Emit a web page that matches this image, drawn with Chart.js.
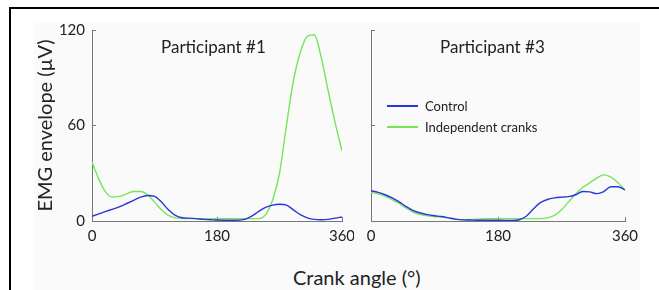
<!DOCTYPE html>
<html>
<head>
<meta charset="utf-8">
<script src="https://cdn.jsdelivr.net/npm/chart.js@4"></script>
<style>
  body { margin: 0; width: 659px; height: 290px; background: #fff; position: relative; overflow: hidden; font-family: "Lato", "DejaVu Sans", sans-serif; color: #222; }
  .frame { position: absolute; left: 9px; top: 7px; right: 0; bottom: -5px; border-top: 2px solid #000; border-left: 2px solid #000; }
  .bg { position: absolute; left: 34px; top: 23px; width: 606px; height: 267px; background: #fafafa; }
  canvas { position: absolute; }
  .ptitle { position: absolute; font-size: 17px; top: 36px; }
  .xlabel { position: absolute; left: 293px; top: 265px; font-size: 20px; }
  .legend { position: absolute; left: 387px; top: 95px; font-size: 13px; }
  .legend div { height: 21px; display: flex; align-items: center; }
  .legend span.sw { display: inline-block; width: 31px; height: 0; border-top: 2px solid; margin-right: 7px; }
</style>
</head>
<body>
<div class="frame"></div>
<div class="bg"></div>
<canvas id="c1" width="320" height="240" style="left:34px;top:23px;width:320px;height:240px"></canvas>
<canvas id="c2" width="287" height="240" style="left:352px;top:23px;width:287px;height:240px"></canvas>
<div class="ptitle" style="left:161px">Participant #1</div>
<div class="ptitle" style="left:440px">Participant #3</div>
<div class="legend" id="legend"></div>
<div class="xlabel">Crank angle (°)</div>
<script>
    // crank angle in degrees, one sample every 10 degrees
    var angles = [0, 10, 20, 30, 40, 50, 60, 70, 80, 90, 100, 110, 120, 130, 140, 150, 160, 170, 180,
                  190, 200, 210, 220, 230, 240, 250, 260, 270, 280, 290, 300, 310, 320, 330, 340, 350, 360];

    var seriesNames = ['Control', 'Independent cranks'];
    var colors = ['#2a36dc', '#74e65a'];

    // participant #1
    var p1Control = [3, 4.5, 6, 7.5, 9, 11, 13, 15, 16, 15.5, 12, 7, 3.5, 2, 1.8, 1.5, 1, 0.8, 0.6,
                     0.5, 0.5, 0.5, 1, 3, 6, 8.5, 10, 10.5, 10, 7, 4, 2, 1, 0.8, 1, 1.8, 2.5];
    var p1Independent = [37, 26, 18, 15, 15.5, 17, 18.5, 18.5, 16.5, 12, 7, 3.5, 2, 1.5, 1.5, 1.5, 1.5, 1.5, 1.5,
                         1.5, 1.5, 1.5, 1.5, 1.5, 1.5, 4, 13, 30, 60, 88, 106, 116, 117, 103, 82, 62, 44];

    // participant #3
    var p3Control = [19, 18, 16.5, 14.5, 12, 9, 6.5, 5, 4, 3.3, 2.8, 2, 1.2, 0.7, 0.6, 0.5, 0.5, 0.5, 0.5,
                     0.4, 0.4, 0.8, 3, 7.5, 11.5, 13.5, 14.5, 15, 15.3, 16.5, 18.5, 18.3, 17.2, 18.5, 21.5, 21.5, 19.5];
    var p3Independent = [18, 17, 15.5, 13.5, 11, 8, 5.5, 4, 3.3, 2.8, 2.5, 1.8, 1, 0.7, 0.9, 1.2, 1.4, 1.5, 1.5,
                         1.5, 1.5, 1.5, 1.5, 1.5, 1.5, 2, 3.5, 7, 12, 17, 21, 24, 27, 29, 27.5, 24, 19.5];

    var xTicks = [0, 180, 360];
    var yTicks = [0, 60, 120];

    Chart.defaults.font.family = 'Lato, "DejaVu Sans", sans-serif';
    Chart.defaults.color = '#222';

    function toPoints(values) {
        return values.map(function(v, i) { return {x: angles[i], y: v}; });
    }

    function makeChart(id, control, independent, showY, yWidth, padRight) {
        return new Chart(document.getElementById(id), {
            type: 'line',
            data: {
                datasets: [control, independent].map(function(vals, i) {
                    return {
                        label: seriesNames[i],
                        data: toPoints(vals),
                        borderColor: colors[i],
                        borderWidth: 1.4,
                        pointRadius: 0,
                        cubicInterpolationMode: 'monotone',
                        fill: false
                    };
                })
            },
            options: {
                responsive: false,
                animation: false,
                layout: { padding: { top: 7, right: padRight, left: 0, bottom: 0 } },
                plugins: { legend: { display: false }, tooltip: { enabled: false } },
                scales: {
                    x: {
                        type: 'linear',
                        min: 0,
                        max: 360,
                        afterBuildTicks: function(s) { s.ticks = xTicks.map(function(v) { return {value: v}; }); },
                        ticks: { font: { size: 15 }, padding: 10, maxRotation: 0 },
                        grid: { drawOnChartArea: false, tickLength: -4, color: '#777' },
                        border: { color: '#777' },
                        afterFit: function(s) { s.height = 42; s.paddingLeft = 0; s.paddingRight = 0; }
                    },
                    y: {
                        min: 0,
                        max: 120,
                        afterBuildTicks: function(s) { s.ticks = yTicks.map(function(v) { return {value: v}; }); },
                        ticks: { display: showY, font: { size: 15 }, padding: 11 },
                        grid: { drawOnChartArea: false, tickLength: -4, color: '#777' },
                        border: { color: '#777' },
                        title: { display: showY, text: 'EMG envelope (µV)', font: { size: 20 }, padding: 0 },
                        afterFit: function(s) { s.width = yWidth; s.paddingTop = 0; s.paddingBottom = 0; }
                    }
                }
            }
        });
    }

    makeChart('c1', p1Control, p1Independent, true, 58, 12);
    makeChart('c2', p3Control, p3Independent, false, 19, 14);

    var legend = document.getElementById('legend');
    seriesNames.forEach(function(name, i) {
        var row = document.createElement('div');
        row.innerHTML = '<span class="sw" style="border-color:' + colors[i] + '"></span>' + name;
        legend.appendChild(row);
    });
</script>
</body>
</html>
